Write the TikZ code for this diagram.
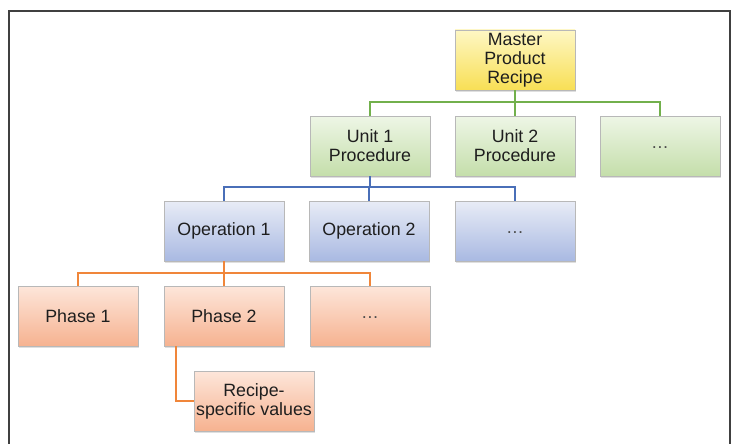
\documentclass[tikz,border=0pt]{standalone}
\usepackage{fontspec}
\setmainfont{Liberation Sans}
\usetikzlibrary{shadows}
\definecolor{ytop}{HTML}{FEF7C4}
\definecolor{ybot}{HTML}{F8DF55}
\definecolor{gtop}{HTML}{EEF6E6}
\definecolor{gbot}{HTML}{C4DEAA}
\definecolor{btop}{HTML}{E8ECF6}
\definecolor{bbot}{HTML}{A9B9E2}
\definecolor{otop}{HTML}{FDE6DA}
\definecolor{obot}{HTML}{F6B290}
\definecolor{gline}{HTML}{72B04C}
\definecolor{bline}{HTML}{4A6FB8}
\definecolor{oline}{HTML}{F0863A}
\definecolor{boxedge}{HTML}{B8B8B8}
\definecolor{txt}{HTML}{1E1E1E}
\begin{document}
\begin{tikzpicture}[x=1pt,y=-1pt,
  box/.style={draw=boxedge, line width=0.8pt, minimum width=120pt, minimum height=60pt,
    align=center, font=\fontsize{17.8}{19}\selectfont, text=txt, inner sep=1pt,
    drop shadow={opacity=0.25, shadow xshift=1.2pt, shadow yshift=-1.5pt}},
  ybox/.style={box, top color=ytop, bottom color=ybot},
  gbox/.style={box, top color=gtop, bottom color=gbot},
  bbox/.style={box, top color=btop, bottom color=bbot},
  obox/.style={box, top color=otop, bottom color=obot},
  gconn/.style={draw=gline, line width=2pt},
  bconn/.style={draw=bline, line width=2pt},
  oconn/.style={draw=oline, line width=2pt}]
\useasboundingbox (0,0) rectangle (736,444);
\draw[line width=2pt, color=black!75] (9,444) -- (9,11) -- (730,11) -- (730,444);

\newcommand{\mydots}{\raisebox{-4pt}{\textcolor{black!70}{\dots}}}
\node[ybox] (master) at (515,60) {Master\\Product\\Recipe};
\node[gbox] (u1) at (370,146) {Unit 1\\Procedure};
\node[gbox] (u2) at (515,146) {Unit 2\\Procedure};
\node[gbox] (u3) at (660,146) {\mydots};
\node[bbox] (o1) at (224,231) {Operation 1};
\node[bbox] (o2) at (369,231) {Operation 2};
\node[bbox] (o3) at (515,231) {\mydots};
\node[obox] (p1) at (78,316) {Phase 1};
\node[obox] (p2) at (224,316) {Phase 2};
\node[obox] (p3) at (370,316) {\mydots};
\node[obox] (rv) at (254,401) {Recipe-\\specific values};

\coordinate (gy) at (0,102);
\coordinate (by) at (0,187);
\coordinate (oy) at (0,273);

\path[gconn] (master.south) -- (master.south |- gy);
\path[gconn] (u1.north) -- (u1.north |- gy) -- (u3.north |- gy) -- (u3.north);
\path[gconn] (u2.north) -- (u2.north |- gy);
\path[bconn] (u1.south) -- (u1.south |- by);
\path[bconn] (o1.north) -- (o1.north |- by) -- (o3.north |- by) -- (o3.north);
\path[bconn] (o2.north) -- (o2.north |- by);
\path[oconn] (o1.south) -- (o1.south |- oy);
\path[oconn] (p1.north) -- (p1.north |- oy) -- (p3.north |- oy) -- (p3.north);
\path[oconn] (p2.north) -- (p2.north |- oy);
\coordinate (pk) at ([xshift=-48pt]p2.south);
\path[oconn] (pk) |- (rv.west);
\end{tikzpicture}
\end{document}
